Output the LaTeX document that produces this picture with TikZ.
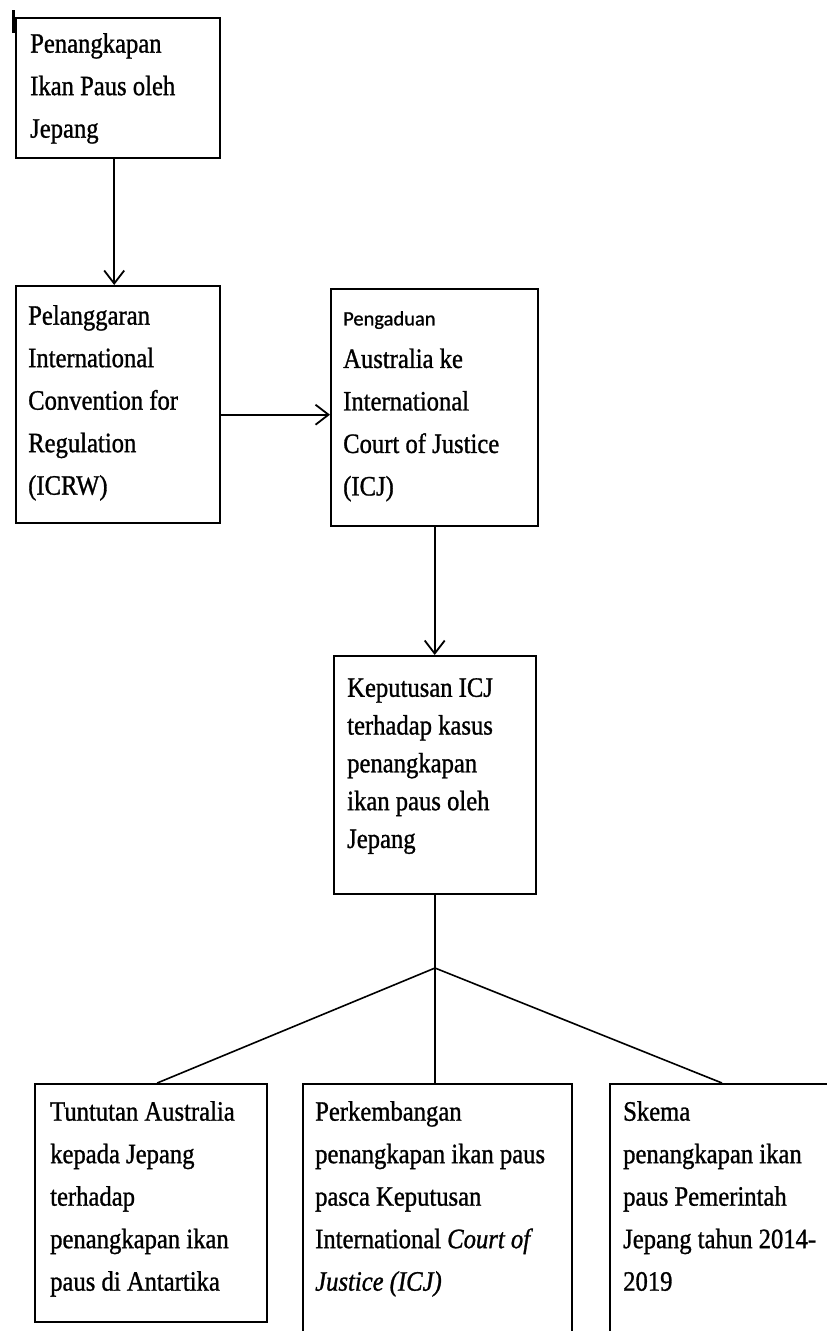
\documentclass[tikz,border=0pt]{standalone}
\usepackage{fontspec}
\setmainfont{Liberation Serif}[FakeStretch=0.88, FakeBold=1]
\newfontfamily\pengfont{Carlito}[FakeBold=0.8]
\usetikzlibrary{arrows.meta}

\begin{document}
\begin{tikzpicture}
[every node/.style={inner sep=0pt},
 stagebox/.style={draw=black, line width=2.4pt, anchor=north west},
 stagetext/.style={anchor=north west, align=left, font=\fontsize{28pt}{42.5pt}\selectfont},
 link/.style={line width=1.8pt, -{Straight Barb[length=13pt, width=20pt]}, color=black}]
\useasboundingbox (0pt,0pt) rectangle (827pt,-1331pt);
\clip (0pt,0pt) rectangle (827pt,-1331pt);
\fill [white] (0pt,0pt) rectangle (827pt,-1331pt);
% stray mark at top left
\draw [line width=3pt] (13pt,-10pt) -- (13pt,-33pt);
% boxes
\node (b1) [stagebox, minimum width=204pt, minimum height=140pt] at (15pt, -17pt) {};
\node (b2) [stagebox, minimum width=204pt, minimum height=237pt] at (15pt, -285pt) {};
\node (b3) [stagebox, minimum width=207pt, minimum height=237pt] at (330pt, -288pt) {};
\node (b4) [stagebox, minimum width=202pt, minimum height=238pt] at (333pt, -655pt) {};
\node (b5) [stagebox, minimum width=232pt, minimum height=238pt] at (34pt, -1083pt) {};
\node (b6) [stagebox, minimum width=269pt, minimum height=340pt] at (302pt, -1083pt) {};
\node (b7) [stagebox, minimum width=300pt, minimum height=340pt] at (609pt, -1083pt) {};
% texts
\node (t1) [stagetext] at (30pt, -33pt) {Penangkapan\\Ikan Paus oleh\\Jepang};
\node (t2) [stagetext] at (28pt, -305pt) {Pelanggaran\\International\\Convention for\\Regulation\\(ICRW)};
\node (t3) [stagetext] at (343pt, -311pt) {{\pengfont\fontsize{20.5pt}{42.5pt}\selectfont Pengaduan}\\Australia ke\\International\\Court of Justice\\(ICJ)};
\node (t4) [stagetext, font=\fontsize{28pt}{37.8pt}\selectfont] at (347pt, -678pt) {Keputusan ICJ\\terhadap kasus\\penangkapan\\ikan paus oleh\\Jepang};
\node (t5) [stagetext] at (50pt, -1101pt) {Tuntutan Australia\\kepada Jepang\\terhadap\\penangkapan ikan\\paus di Antartika};
\node (t6) [stagetext] at (315pt, -1101pt) {Perkembangan\\penangkapan ikan paus\\pasca Keputusan\\International \textit{Court of}\\\textit{Justice (ICJ)}};
\node (t7) [stagetext] at (623pt, -1101pt) {Skema\\penangkapan ikan\\paus Pemerintah\\Jepang tahun 2014-\\2019};
% connectors
\draw [link] ([xshift=-4pt]b1.south) -- ([xshift=-4pt]b2.north);
\draw [link] ([yshift=-10pt]b2.east) -- ([yshift=-10pt]b2.east -| b3.west);
\draw [link] (b3.south) -- (b3.south |- b4.north);
\coordinate (split) at (435pt, -968pt);
\draw [line width=1.8pt] (b4.south) -- (b4.south |- b6.north);
\draw [line width=1.6pt] ([xshift=6pt]b5.north) -- (split) -- ([xshift=113pt]b7.north west);
\end{tikzpicture}
\end{document}
